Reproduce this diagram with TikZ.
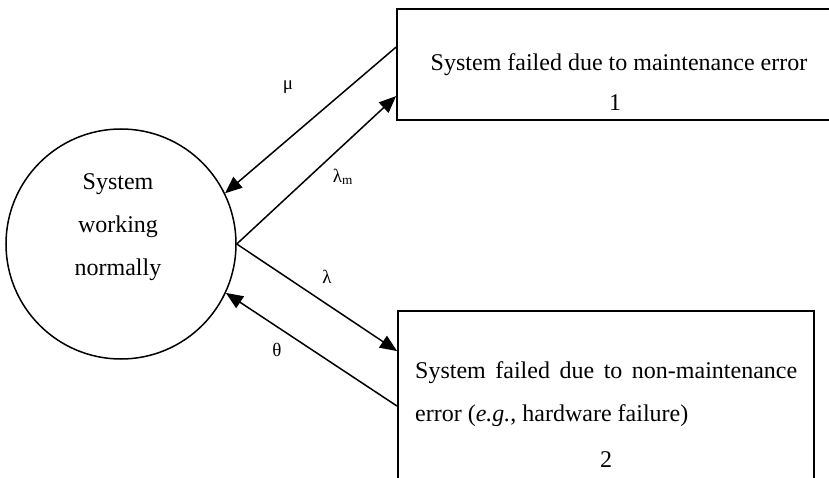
\documentclass[tikz,border=0pt]{standalone}
\usepackage{fontspec}
\setmainfont{Liberation Serif}
\usetikzlibrary{arrows.meta,calc}
\begin{document}
\begin{tikzpicture}[x=1pt,y=-1pt,
  txt/.style={font=\fontsize{24}{43}\selectfont, inner sep=0pt},
  lbl/.style={font=\fontsize{19}{20}\selectfont, inner sep=0pt},
  arr/.style={line width=1.5pt, -{Triangle[length=17pt,width=14pt]}},
  boxst/.style={draw, line width=1.8pt, inner sep=0pt}]
\useasboundingbox (0,0) rectangle (829,478);
\clip (0,0) rectangle (829,478);
\node[draw, circle, line width=1.5pt, minimum size=230pt, inner sep=0pt] (c) at (121,244) {};
\node[txt, align=center] (ct) at (118,227) {System\\working\\normally};
\node[boxst, minimum width=443pt, minimum height=111pt] (b1) at (618.5,64.5) {};
\node[boxst, minimum width=416pt, minimum height=180pt] (b2) at (606,401) {};
\node[txt] (t1) at (619,65) {System failed due to maintenance error};
\node[txt] (n1) at (615,103) {1};
\node[txt, text width=382pt, align=justify, anchor=north west] (t2) at (415,361) {System failed due to non-maintenance\linebreak error (\textit{e.g.}, hardware failure)\par};
\node[txt] (n2) at (606,460) {2};
\coordinate (b1a) at ($(b1.north west)+(0,39)$);
\coordinate (b1b) at ($(b1.north west)+(0,88)$);
\coordinate (b2a) at ($(b2.north west)+(0,41)$);
\coordinate (b2b) at ($(b2.north west)+(0,96)$);
\draw[arr] (b1a) -- (c.26.6);
\draw[arr] (c.0) -- (b1b);
\draw[arr] (c.0) -- (b2a);
\draw[arr] (b2b) -- (c.-25);
\node[lbl] (mu) at (288,87) {μ};
\node[lbl] (lm) at (343,177) {λ\textsubscript{m}};
\node[lbl] (la) at (327,277) {λ};
\node[lbl] (th) at (277,350) {θ};
\end{tikzpicture}
\end{document}
